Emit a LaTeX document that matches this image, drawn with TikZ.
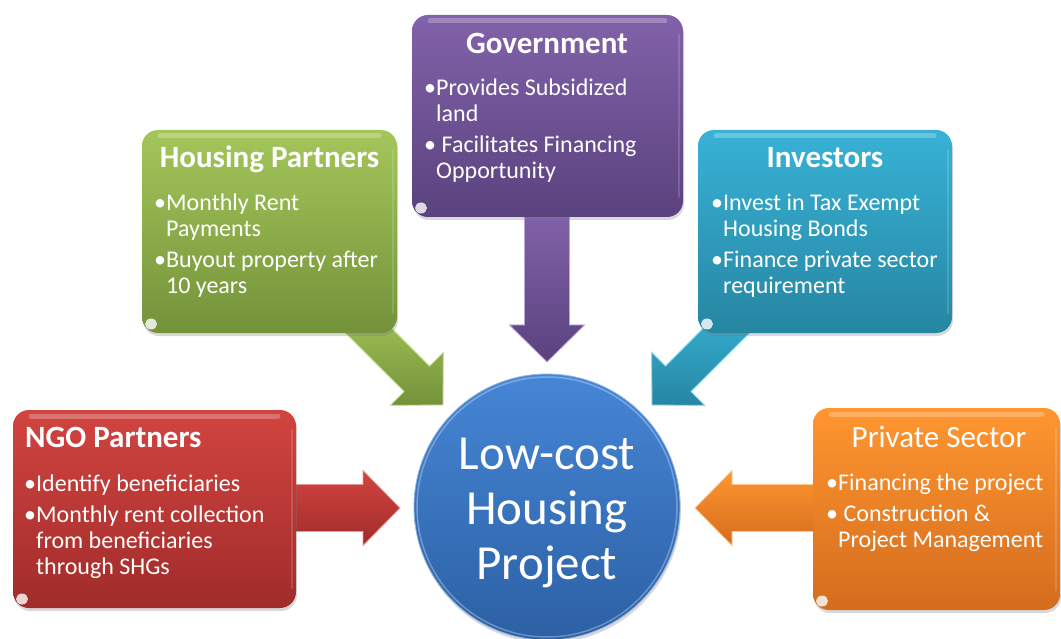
\documentclass[tikz,border=0pt]{standalone}
\usepackage{fontspec}
\setmainfont{Carlito}
\usetikzlibrary{shadows,calc,fit}

% stakeholder colours (top / bottom of each gradient)
\definecolor{ngoTop}{RGB}{210,68,64}
\definecolor{ngoBot}{RGB}{160,44,42}
\definecolor{hpTop}{RGB}{164,198,90}
\definecolor{hpBot}{RGB}{116,146,58}
\definecolor{govTop}{RGB}{130,98,170}
\definecolor{govBot}{RGB}{90,66,126}
\definecolor{invTop}{RGB}{56,178,214}
\definecolor{invBot}{RGB}{38,134,162}
\definecolor{prvTop}{RGB}{255,150,48}
\definecolor{prvBot}{RGB}{212,108,30}
\definecolor{hubTop}{RGB}{70,134,214}
\definecolor{hubBot}{RGB}{44,96,164}

% bulleted block: first baseline is the box baseline
\newcommand\bulletblock[1]{\vtop{\hsize=320pt\parindent=0pt\parskip=5pt
  \baselineskip=26pt\rightskip=0pt plus 1fil\relax #1}}
\newcommand\bulletitem{\par\hangindent=12pt\hangafter=1\noindent
  \hbox to 12pt{\textbullet\hss}}

% rounded glossy box with its highlights
\newcommand\stakeholderbox[6]{%
  \node[panel, top color=#6Top, bottom color=#6Bot, fit={(#2,#3) (#4,#5)}] (#1) {};
  \draw[white, opacity=.25, line width=5pt, line cap=round] (#2+18,#3+6) -- (#4-18,#3+6);
  \draw[white, opacity=.15, line width=2pt, line cap=round] (#4-4,#3+20) -- (#4-4,#5-20);
  \fill[white, opacity=.8] (#2+9,#5-9) ellipse (6pt and 5.5pt);
}

% block arrow: tip, direction, length, shaft half width, colour
\newcommand\flowarrow[5]{%
  \begin{scope}[shift={(#1)}, rotate=#2]
    \path[top color=#5Top, bottom color=#5Bot, draw=#5Top!55!white, line width=.8pt]
      (0,0) -- (-37,37.5) -- (-37,#4) -- (-#3,#4) -- (-#3,-#4) -- (-37,-#4) -- (-37,-37.5) -- cycle;
  \end{scope}}

\begin{document}
\begin{tikzpicture}[x=1pt, y=-1pt,
  panel/.style={rounded corners=16pt, inner sep=0pt, draw=none,
    drop shadow={shadow xshift=1pt, shadow yshift=-3pt, opacity=.3}},
  hubstyle/.style={circle, minimum size=266pt, inner sep=0pt,
    top color=hubTop, bottom color=hubBot, draw=hubTop!60!white, line width=.8pt,
    drop shadow={shadow xshift=1pt, shadow yshift=-3pt, opacity=.3}},
  ttl/.style={inner sep=0pt, text=white, font=\fontsize{31}{34}\selectfont\bfseries},
  ttlreg/.style={inner sep=0pt, text=white, font=\fontsize{31}{34}\selectfont},
  lst/.style={inner sep=0pt, text=white, anchor=base west, font=\fontsize{24}{26}\selectfont},
]
\useasboundingbox (0,0) rectangle (1061,639);

% central project
\node[hubstyle] (hub) at (547,507) {};
\draw[white, opacity=.3, line width=1.5pt] (hub.center) circle (130pt);
\node[inner sep=0pt, anchor=base, text=white, font=\fontsize{49}{55}\selectfont] (hubText) at (547,469)
  {\vtop{\hsize=300pt\parindent=0pt\centering\baselineskip=55pt Low-cost\par Housing\par Project}};

% arrow tips just outside the hub
\coordinate (ngoTip) at ($(hub.center)+(-147,1)$);
\coordinate (prvTip) at ($(hub.center)+(148,1)$);
\coordinate (govTip) at ($(hub.center)+(0,-145)$);
\coordinate (hpTip)  at ($(hub.center)+(-104,-102)$);
\coordinate (invTip) at ($(hub.center)+(105,-102)$);

\flowarrow{ngoTip}{0}{110}{23.5}{ngo}
\flowarrow{prvTip}{180}{130}{23.5}{prv}
\flowarrow{govTip}{-90}{152}{22.5}{gov}
\flowarrow{hpTip}{-45}{125}{18}{hp}
\flowarrow{invTip}{-135}{125}{18}{inv}

% stakeholder boxes
\stakeholderbox{ngo}{13}{410}{296}{608}{ngo}
\stakeholderbox{hp}{142}{130}{397}{333}{hp}
\stakeholderbox{gov}{412}{15}{683}{217}{gov}
\stakeholderbox{inv}{698}{130}{952}{333}{inv}
\stakeholderbox{prv}{813}{408}{1060}{610}{prv}

% NGO partners
\node[ttl, anchor=base west] (ngoTitle) at (25,447) {NGO Partners};
\node[lst] (ngoList) at (24,491) {\bulletblock{%
  \bulletitem Identify beneficiaries
  \bulletitem Monthly rent collection\newline from beneficiaries\newline through SHGs}};

% housing partners
\node[ttl, anchor=base] (hpTitle) at (269.5,168) {Housing Partners};
\node[lst] (hpList) at (154,211) {\bulletblock{%
  \bulletitem Monthly Rent\newline Payments
  \bulletitem Buyout property after\newline 10 years}};

% government
\node[ttl, anchor=base] (govTitle) at (547,54) {Government};
\node[lst] (govList) at (424,96) {\bulletblock{%
  \bulletitem Provides Subsidized\newline land
  \bulletitem\ Facilitates Financing\newline Opportunity}};

% investors
\node[ttl, anchor=base] (invTitle) at (825,168) {Investors};
\node[lst] (invList) at (711,211) {\bulletblock{%
  \bulletitem Invest in Tax Exempt\newline Housing Bonds
  \bulletitem Finance private sector\newline requirement}};

% private sector
\node[ttlreg, anchor=base] (prvTitle) at (939,447) {Private Sector};
\node[lst] (prvList) at (826,490) {\bulletblock{%
  \bulletitem Financing the project
  \bulletitem\ Construction \&\newline Project Management}};
\end{tikzpicture}
\end{document}
